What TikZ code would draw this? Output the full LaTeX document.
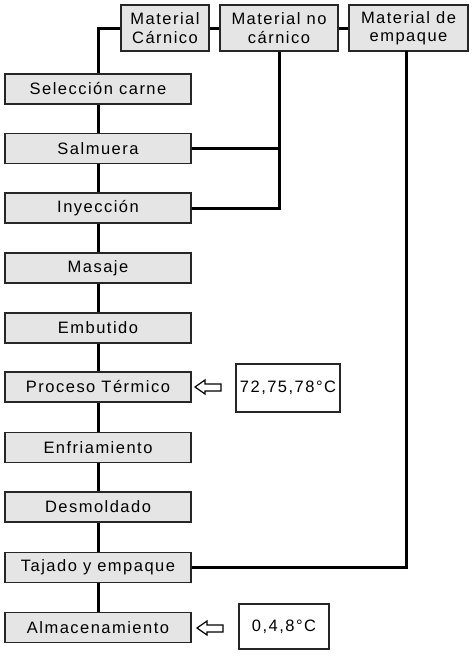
\documentclass[tikz,border=0pt]{standalone}
\usepackage{fontspec}
\setmainfont{Liberation Sans}[LetterSpace=9]
\begin{document}
\begin{tikzpicture}[x=1pt,y=-1pt,
  stepbox/.style={draw=black!85,line width=1.6pt,fill=black!10,minimum width=186pt,minimum height=30pt,inner sep=0pt,font=\fontsize{16.5}{18}\selectfont},
  topbox/.style={draw=black!85,line width=1.6pt,fill=black!10,minimum height=46pt,inner sep=0pt,align=center,font=\fontsize{16.5}{18.5}\selectfont},
  valbox/.style={draw=black!85,line width=1.6pt,fill=white,inner sep=0pt,font=\fontsize{16.5}{18}\selectfont},
  conn/.style={line width=3pt,black},
  harrow/.style={draw=black,line width=1.2pt,fill=white}]
\useasboundingbox (0,0) rectangle (474,656);
% top boxes
\node[topbox,minimum width=88pt] (carn) at (165,28) {Material\\Cárnico};
\node[topbox,minimum width=118pt] (nocarn) at (279,28) {Material no\\cárnico};
\node[topbox,minimum width=119pt] (emp) at (408.5,28) {Material de\\empaque};
% process boxes
\node[stepbox] (sel) at (98,89) {Selección carne};
\node[stepbox] (salm) at (98,148.5) {Salmuera};
\node[stepbox] (iny) at (98,208) {Inyección};
\node[stepbox] (mas) at (98,268) {Masaje};
\node[stepbox] (emb) at (98,328) {Embutido};
\node[stepbox] (proc) at (98,387) {Proceso Térmico};
\node[stepbox] (enf) at (98,447.5) {Enfriamiento};
\node[stepbox] (des) at (98,507) {Desmoldado};
\node[stepbox] (taj) at (98,567.5) {Tajado y empaque};
\node[stepbox] (alm) at (98,627.5) {Almacenamiento};
% value boxes
\node[valbox,minimum width=104pt,minimum height=48pt] (t1) at (288,388) {72,75,78°C};
\node[valbox,minimum width=90pt,minimum height=45pt] (t2) at (284,626.5) {0,4,8°C};
% connectors
\coordinate (empx) at (406,51);
\draw[conn] (carn.west) -| (sel.north);
\draw[conn] (carn.east) -- (nocarn.west);
\draw[conn] (nocarn.east) -- (emp.west);
\draw[conn] (sel) -- (salm);
\draw[conn] (salm) -- (iny);
\draw[conn] (iny) -- (mas);
\draw[conn] (mas) -- (emb);
\draw[conn] (emb) -- (proc);
\draw[conn] (proc) -- (enf);
\draw[conn] (enf) -- (des);
\draw[conn] (des) -- (taj);
\draw[conn] (taj) -- (alm);
\draw[conn] (nocarn.south) |- (iny.east);
\draw[conn] (salm.east) -- (salm.east -| nocarn.south);
\draw[conn] (empx) |- (taj.east);
% hollow arrows
\path[harrow] (195,387) -- (205,380) -- (205,384) -- (221,384) -- (221,391) -- (205,391) -- (205,394) -- cycle;
\path[harrow] (197,628) -- (207,621) -- (207,625) -- (223,625) -- (223,632) -- (207,632) -- (207,635) -- cycle;
\end{tikzpicture}
\end{document}
